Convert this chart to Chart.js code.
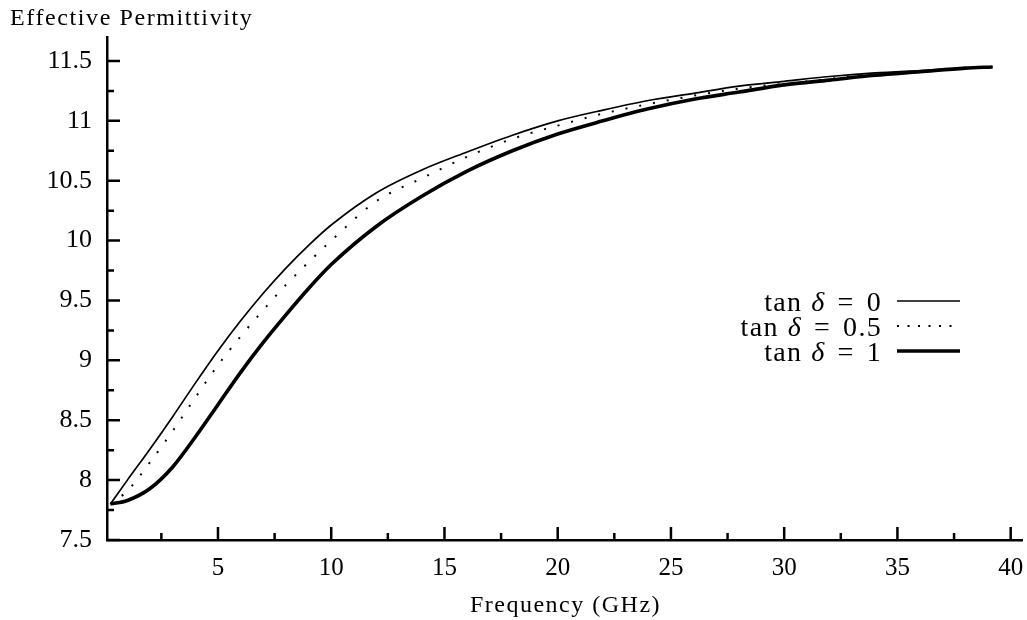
<!DOCTYPE html>
<html>
<head>
<meta charset="utf-8">
<title>Effective Permittivity vs Frequency</title>
<script src="https://cdn.jsdelivr.net/npm/chart.js@4.4.1/dist/chart.umd.min.js"></script>
<style>
  html, body { margin: 0; padding: 0; background: #ffffff; }
  #wrap { width: 1027px; height: 620px; }
</style>
</head>
<body>
<div id="wrap"><canvas id="chart" width="1027" height="620"></canvas></div>
<script>
// Frequency sweep (GHz) shared by the three loss tangents
const freqGHz   = [0.25, 1, 2, 3, 4, 5, 6, 7, 8, 9, 10, 12, 14, 16, 18, 20, 22, 24, 26, 28, 30, 32, 34, 36, 38, 39.2];
// Effective permittivity for tan δ = 0, 0.5 and 1
const epsTan0   = [7.80, 8.00, 8.26, 8.53, 8.81, 9.08, 9.33, 9.56, 9.77, 9.96, 10.13, 10.40, 10.59, 10.74, 10.88, 11.00, 11.09, 11.17, 11.23, 11.29, 11.33, 11.37, 11.40, 11.42, 11.44, 11.45];
const epsTan05  = [7.80, 7.91, 8.15, 8.41, 8.69, 8.96, 9.20, 9.42, 9.63, 9.82, 10.00, 10.33, 10.52, 10.70, 10.85, 10.96, 11.06, 11.14, 11.21, 11.27, 11.31, 11.35, 11.39, 11.41, 11.44, 11.45];
const epsTan1   = [7.80, 7.83, 7.93, 8.11, 8.36, 8.63, 8.90, 9.15, 9.38, 9.60, 9.80, 10.12, 10.37, 10.58, 10.75, 10.89, 11.00, 11.10, 11.18, 11.24, 11.30, 11.34, 11.38, 11.41, 11.44, 11.45];
const lossTangents = ['0', '0.5', '1'];

// Axis tick positions
const xMajorTicks = [5, 10, 15, 20, 25, 30, 35, 40];
const xMinorTicks = [2.5, 7.5, 12.5, 17.5, 22.5, 27.5, 32.5, 37.5];
const yMajorTicks = [7.5, 8, 8.5, 9, 9.5, 10, 10.5, 11, 11.5];
const yMinorTicks = [7.75, 8.25, 8.75, 9.25, 9.75, 10.25, 10.75, 11.25];

const chartTitle = 'Effective Permittivity';
const xAxisTitle = 'Frequency (GHz)';

const SERIF = "'Liberation Serif', 'Times New Roman', serif";
const toPoints = (ys) => freqGHz.map((f, i) => ({ x: f, y: ys[i] }));

// Inward major/minor tick marks on the left and bottom axes
const inwardTicks = {
  id: 'inwardTicks',
  afterDraw(chart) {
    const { ctx, chartArea: a, scales: { x, y } } = chart;
    ctx.save();
    ctx.strokeStyle = '#000';
    ctx.lineWidth = 2.5;
    ctx.lineCap = 'butt';
    ctx.beginPath();
    const xMarks = (vals, len) => vals.forEach(v => {
      const px = x.getPixelForValue(v);
      ctx.moveTo(px, a.bottom); ctx.lineTo(px, a.bottom - len);
    });
    const yMarks = (vals, len) => vals.forEach(v => {
      const py = y.getPixelForValue(v);
      ctx.moveTo(a.left, py); ctx.lineTo(a.left + len, py);
    });
    xMarks(xMajorTicks, 13); xMarks(xMinorTicks, 7);
    yMarks(yMajorTicks, 13); yMarks(yMinorTicks, 7);
    ctx.stroke();
    ctx.restore();
  }
};

// Titles and the in-plot legend (text on the left, line sample on the right)
const annotations = {
  id: 'annotations',
  afterDraw(chart) {
    const { ctx, chartArea: a } = chart;
    ctx.save();
    ctx.fillStyle = '#000';
    ctx.textBaseline = 'alphabetic';

    ctx.letterSpacing = '1.6px';
    ctx.font = `24px ${SERIF}`;
    ctx.textAlign = 'left';
    ctx.fillText(chartTitle, 10, 25);

    ctx.letterSpacing = '1.5px';
    ctx.font = `24px ${SERIF}`;
    ctx.textAlign = 'center';
    ctx.fillText(xAxisTitle, (a.left + a.right) / 2 + 1, 612);

    // Legend rows
    const rowY = [301, 326, 351];
    const textRight = 882, lineX0 = 897, lineX1 = 960;
    ctx.textAlign = 'left';
    ctx.letterSpacing = '1.3px';
    chart.data.datasets.forEach((ds, i) => {
      const pieces = [
        { t: 'tan', f: `28px ${SERIF}`, gap: 9 },
        { t: 'δ', f: `italic 28px ${SERIF}`, gap: 12 },
        { t: '=', f: `28px ${SERIF}`, gap: 12 },
        { t: lossTangents[i], f: `28px ${SERIF}`, gap: 0 }
      ];
      let total = 0;
      pieces.forEach(p => { ctx.font = p.f; p.w = ctx.measureText(p.t).width; total += p.w + p.gap; });
      let cx = textRight - total;
      const base = rowY[i] + 10;
      pieces.forEach(p => { ctx.font = p.f; ctx.fillText(p.t, cx, base); cx += p.w + p.gap; });

      ctx.save();
      ctx.strokeStyle = ds.borderColor;
      ctx.lineWidth = ds.borderWidth;
      ctx.setLineDash(ds.legendDash || []);
      ctx.beginPath();
      ctx.moveTo(lineX0, rowY[i]);
      ctx.lineTo(lineX1, rowY[i]);
      ctx.stroke();
      ctx.restore();
    });
    ctx.restore();
  }
};

Chart.defaults.font.family = SERIF;
Chart.defaults.color = '#000';

new Chart(document.getElementById('chart'), {
  type: 'line',
  data: {
    datasets: [
      {
        label: 'tan δ = ' + lossTangents[0],
        data: toPoints(epsTan0),
        borderColor: '#000',
        borderWidth: 1.7,
        pointRadius: 0,
        cubicInterpolationMode: 'monotone'
      },
      {
        label: 'tan δ = ' + lossTangents[1],
        data: toPoints(epsTan05),
        borderColor: '#000',
        borderWidth: 2,
        borderDash: [2, 12],
        legendDash: [2, 8.5],
        borderCapStyle: 'butt',
        pointRadius: 0,
        cubicInterpolationMode: 'monotone'
      },
      {
        label: 'tan δ = ' + lossTangents[2],
        data: toPoints(epsTan1),
        borderColor: '#000',
        borderWidth: 3.6,
        pointRadius: 0,
        cubicInterpolationMode: 'monotone'
      }
    ]
  },
  options: {
    responsive: false,
    animation: false,
    devicePixelRatio: 1,
    layout: { padding: { top: 37, right: 5, left: 0, bottom: 0 } },
    plugins: {
      legend: { display: false },
      title: { display: false },
      tooltip: { enabled: false }
    },
    scales: {
      x: {
        type: 'linear',
        min: 0.1,
        max: 40.5,
        afterFit: (s) => { s.height = 80; s.paddingLeft = 0; s.paddingRight = 0; },
        afterBuildTicks: (s) => { s.ticks = xMajorTicks.map(v => ({ value: v })); },
        grid: { display: false, drawTicks: false },
        border: { display: true, color: '#000', width: 2.5 },
        ticks: {
          autoSkip: false,
          maxRotation: 0,
          padding: 13,
          font: { size: 25 },
          color: '#000',
          callback: (v) => String(v)
        }
      },
      y: {
        type: 'linear',
        min: 7.5,
        max: 11.7,
        afterFit: (s) => { s.width = 107; s.paddingTop = 0; s.paddingBottom = 0; },
        afterBuildTicks: (s) => { s.ticks = yMajorTicks.map(v => ({ value: v })); },
        grid: { display: false, drawTicks: false },
        border: { display: true, color: '#000', width: 2.5 },
        ticks: {
          autoSkip: false,
          padding: 15,
          font: { size: 26 },
          color: '#000',
          callback: (v) => String(v)
        }
      }
    }
  },
  plugins: [inwardTicks, annotations]
});
</script>
</body>
</html>
